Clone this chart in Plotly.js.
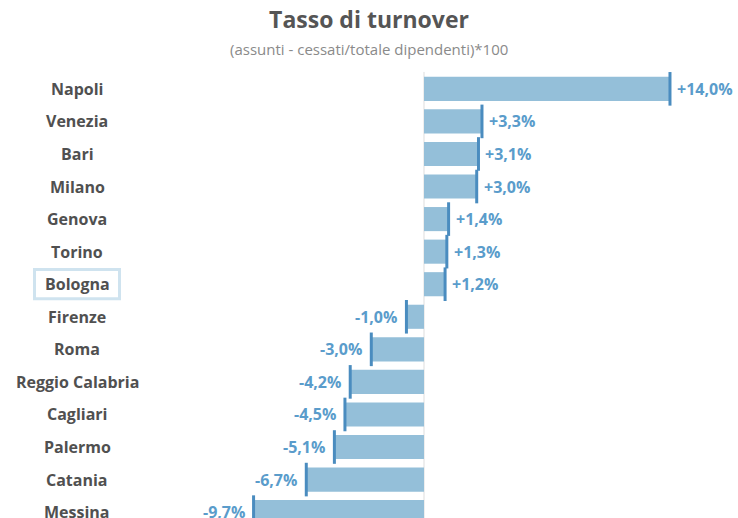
<!DOCTYPE html>
<html><head><meta charset="utf-8">
<script src="https://cdn.plot.ly/plotly-3.0.1.min.js"></script>
<style>html,body{margin:0;padding:0;background:#fff}#chart{width:738px;height:518px}</style>
</head><body><div id="chart"></div>
<script>
const cities = ["Napoli","Venezia","Bari","Milano","Genova","Torino","Bologna","Firenze","Roma","Reggio Calabria","Cagliari","Palermo","Catania","Messina"];
const turnover = [14.0,3.3,3.1,3.0,1.4,1.3,1.2,-1.0,-3.0,-4.2,-4.5,-5.1,-6.7,-9.7];
const highlighted = "Bologna";
const titleText = "Tasso di turnover";
const subtitleText = "(assunti - cessati/totale dipendenti)*100";

const fmt = v => (v > 0 ? "+" : "") + v.toFixed(1).replace(".", ",") + "%";
const labelFont = {family: "Open Sans, sans-serif", size: 16, color: "#505050", weight: 700};
const valueFont = {family: "Open Sans, sans-serif", size: 16, color: "#5a9ccb", weight: 700};

const traces = [
  {type: "bar", orientation: "h", y: cities, x: turnover, width: 0.74,
   marker: {color: "#94bfd9"}, hoverinfo: "skip"},
  {type: "scatter", mode: "markers", y: cities, x: turnover,
   marker: {symbol: "line-ns-open", size: 24, line: {width: 3, color: "#4a8cbf"}, color: "#4a8cbf"},
   hoverinfo: "skip", cliponaxis: false}
];

const annotations = [];
cities.forEach((c, i) => {
  annotations.push({xref: "paper", yref: "y", x: 77/738, y: c, text: c, showarrow: false,
    xanchor: "center", yanchor: "middle", font: labelFont});
  const v = turnover[i];
  annotations.push({xref: "x", yref: "y", x: v, y: c, text: fmt(v), showarrow: false,
    xanchor: v > 0 ? "left" : "right", xshift: v > 0 ? 5 : -7, yanchor: "middle", font: valueFont});
});
annotations.push({xref: "paper", yref: "paper", x: 0.5, y: 1 + (40.2-49)/477.8, text: subtitleText,
  showarrow: false, xanchor: "center", yanchor: "middle",
  font: {family: "Open Sans, sans-serif", size: 15, color: "#8a8a8a"}});

const hi = cities.indexOf(highlighted);
const layout = {
  width: 738, height: 518,
  margin: {l: 0, r: 0, t: 40.2, b: 0, pad: 0},
  paper_bgcolor: "#ffffff", plot_bgcolor: "#ffffff",
  showlegend: false,
  title: {text: titleText, x: 0.5, xanchor: "center", y: 1 - 20/518, yanchor: "middle",
    font: {family: "Open Sans, sans-serif", size: 23, color: "#555555", weight: 700}},
  xaxis: {range: [-424/17.57, 314/17.57], visible: false, fixedrange: true},
  yaxis: {type: "category", range: [13.18, -1.5], visible: false, fixedrange: true},
  annotations: annotations,
  shapes: [
    {type: "line", xref: "x", yref: "y", x0: 0, x1: 0, y0: -0.52, y1: 13.5,
     line: {color: "#dddddd", width: 1}, layer: "below"},
    {type: "rect", xref: "paper", yref: "y", x0: 34.5/738, x1: 119.5/738, y0: hi - 0.45, y1: hi + 0.45,
     line: {color: "#cfe3ef", width: 3}, fillcolor: "rgba(0,0,0,0)"}
  ]
};
Plotly.newPlot("chart", traces, layout, {displayModeBar: false, staticPlot: true});
</script></body></html>
